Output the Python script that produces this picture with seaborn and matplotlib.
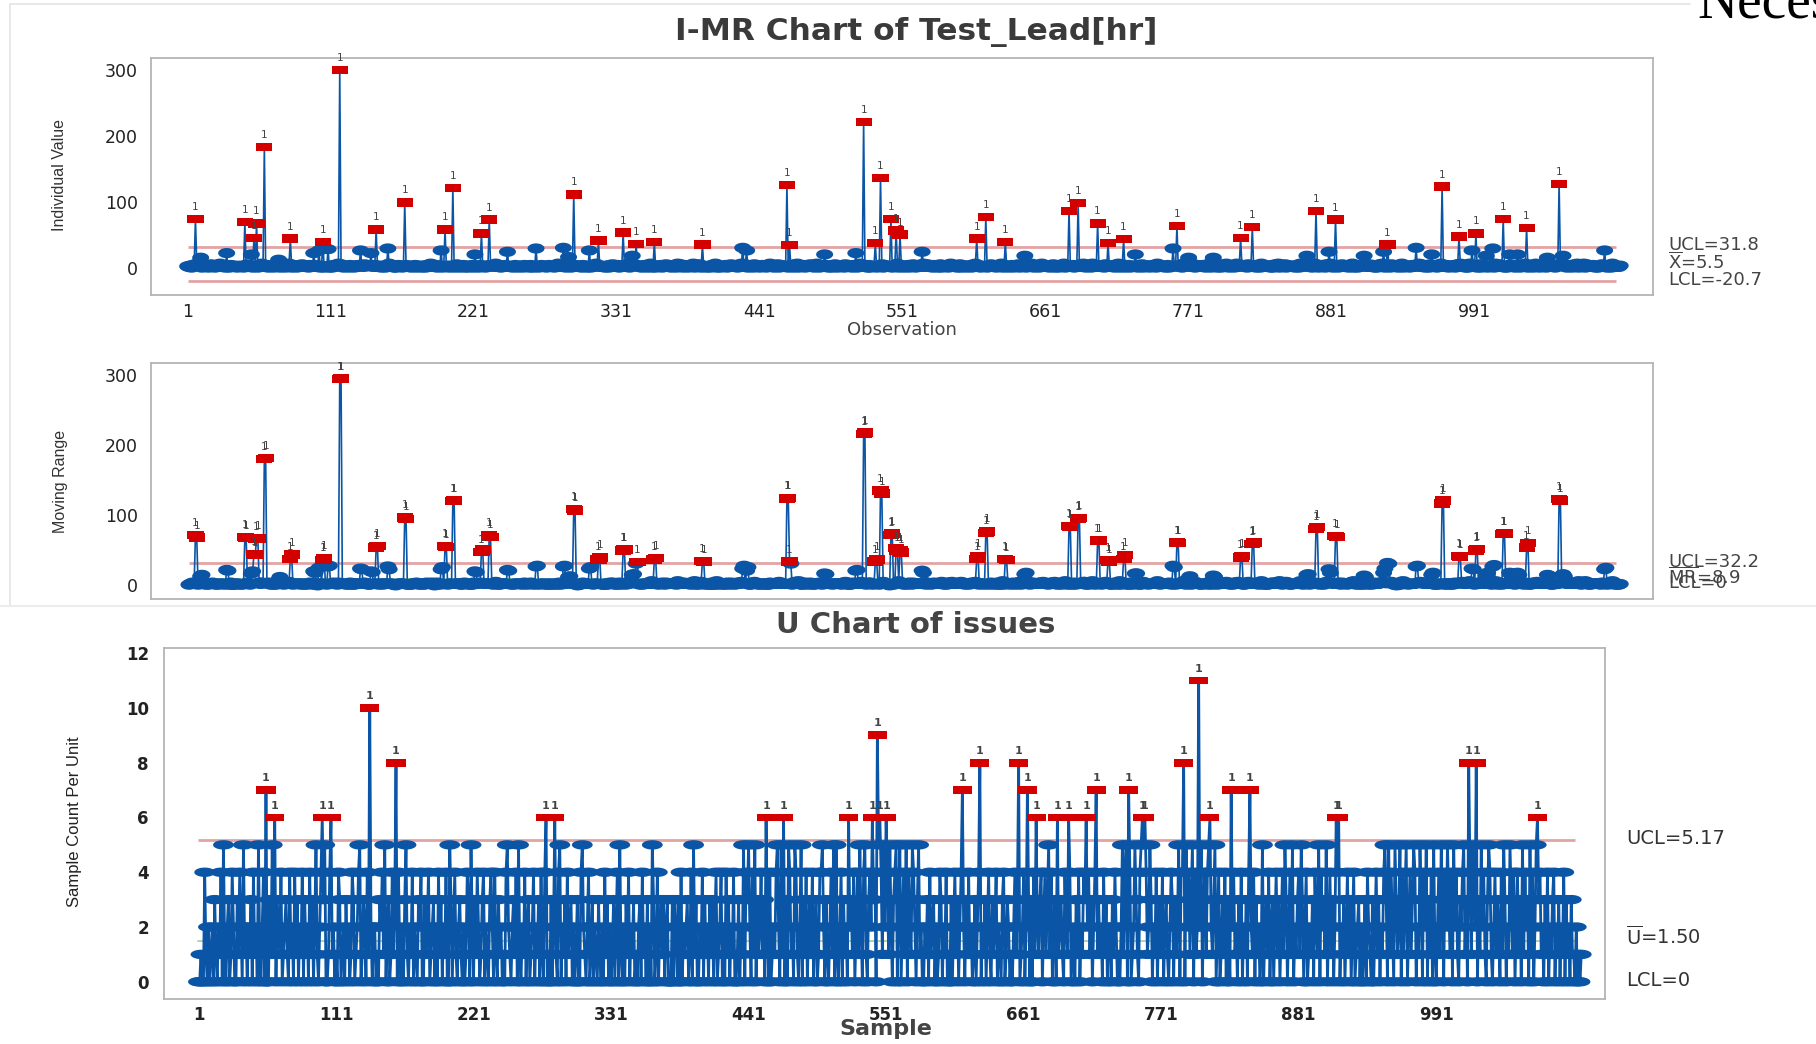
import numpy as np
import matplotlib
matplotlib.use("Agg")
import matplotlib.pyplot as plt
from matplotlib.path import Path
from matplotlib.markers import MarkerStyle
from matplotlib.lines import Line2D
import seaborn as sns

# ---------------- I chart data (Test_Lead[hr]) ----------------
i_seg_0001 = "2130421652 1024310251 3012463120 2104321302 1320415231 0213042630 1402310324 2031204162 0142031253 2130412041"
i_seg_0101 = "1203402130 2041326153 0231042103 1420315243 2031402130 1302463120 0241302143 2103140231 0320413621 1402310243"
i_seg_0201 = "2031402530 1240310234 0213042130 3104231621 2031420312 0142031204 2130410231 0241320143 1203462130 2041302143"
i_seg_0301 = "3120413025 0213640132 1032041523 2401302146 0312503120 1420316024 0231402153 1302410625 2041302316 0132504120"
i_seg_0401 = "2104326013 0321402153 1240316025 3012405132 0142301264 2031502413 1204320516 0321402315 2103640213 1420310352"
i_seg_0501 = "0312405123 2041302615 1320402136 0213504132 2401326013 1032402153 0241306125 3120413025 0213402613 1302504120"
i_seg_0601 = "2140316023 0312402153 1204326013 3021402315 0142305126 2031402613 1320415023 0213602143 2401302516 1032406213"
i_seg_0701 = "0312405123 2140326015 1023402136 3012504132 0241306213 1302402153 2031406125 0213504132 1420326013 3104202516"
i_seg_0801 = "2013402615 0321405132 1402306213 2130402516 0213504123 1302406215 3021402613 0142305126 2031402153 1320416023"
i_seg_0901 = "0213406125 2140302516 1032405213 3021604132 0241302615 1302405123 2013602143 0321402516 1420306213 2103504132"
i_seg_1001 = "0312406215 2140302153 1023504126 3012402613 0241305132 1302406215 2031402516 0213605123 1420302153 3104206213"
i_seg_1101 = "213"

i_bump_obs = [11, 31, 50, 71, 98, 102, 109, 134, 142, 155, 196, 222, 247, 269, 290, 294, 310, 343, 428, 431,
              491, 515, 566, 645, 730, 759, 771, 790, 862, 879, 906, 921, 946, 958, 989, 1000, 1005, 1018, 1024,
              1047, 1059, 1091]
i_bump_val = [15, 22, 20, 12, 22, 26, 28, 26, 22, 29, 26, 20, 24, 29, 30, 16, 26, 18, 30, 26,
              20, 22, 24, 18, 20, 29, 15, 15, 18, 24, 18, 24, 30, 20, 26, 18, 29, 20, 20,
              15, 18, 26]
i_spike_obs = [7, 45, 52, 54, 60, 80, 105, 118, 146, 168, 199, 205, 227, 233, 298, 317, 336, 346, 360, 397,
               462, 464, 521, 530, 534, 542, 546, 549, 608, 615, 630, 679, 686, 701, 709, 721, 762, 811, 820,
               869, 884, 924, 966, 979, 992, 1013, 1031, 1056]
i_spike_val = [74, 69, 45, 67, 183, 44, 39, 300, 58, 99, 58, 121, 52, 73, 111, 41, 53, 36, 39, 35,
               125, 34, 221, 37, 136, 74, 56, 50, 44, 77, 39, 86, 98, 67, 37, 43, 63, 45, 62,
               86, 73, 35, 123, 47, 52, 74, 60, 127]
i_ucl, i_cl, i_lcl = 31.8, 5.5, -20.7
mr_ucl, mr_cl, mr_lcl = 32.2, 8.9, 0.0

# ---------------- U chart data (issues) ----------------
u_seg_0001 = "0010041020 1203102140 5102301420 0314205120 2130412051 0240000315 1003214012 3104120413 0214031204 1302510240"
u_seg_0101 = "3500140120 1043012031 2014301245 0132041020 2201032415 0230141300 4102035102 1402103240 0312401230 2041302140"
u_seg_0201 = "0530241023 1020143052 0314201340 2103420410 3120104521 0231405102 1402301240 2130410400 1030201045 0213041230"
u_seg_0301 = "2013004521 0240130210 3102041302 0130240510 2031402130 1023041203 0205301402 3130230003 0320304021 2301405130"
u_seg_0401 = "0214031203 1302401240 2041302140 0130215043 5204150312 4130020401 2145205100 3054120541 0250314023 1402301445"
u_seg_0501 = "2031024150 5102403120 0231402415 2045103420 3400504152 0415203450 3502415042 1542035120 0213041230 2014302140"
u_seg_0601 = "1030241302 4020314120 1302400213 0241031240 2103401320 1024130012 4020303041 0213402413 5140230012 3104210401"
u_seg_0701 = "2031402143 0241302401 3120413022 0314201025 1450040125 3104505041 2530214023 1402310243 0312504400 5241350412"
u_seg_0801 = "0250341450 2135024013 1403200241 2031402130 4021403120 1502314023 0241302415 3024150213 4153024012 1304215042"
u_seg_0901 = "3150241302 0400213024 1302401230 2013042103 0241302145 3051420531 2504135024 1354021530 4250314051 0241530425"
u_seg_1001 = "3140524103 2451300415 4200315241 0354102413 2041530215 3140241305 1423051402 5034120314 0213402130 2140312031"
u_seg_1101 = "1020101"

u_ooc_obs = [55, 62, 100, 107, 138, 159, 279, 286, 455, 469, 521, 540, 544, 546, 551, 612, 626, 657, 664, 671,
             688, 697, 711, 719, 745, 756, 758, 789, 801, 810, 827, 842, 911, 913, 1017, 1023, 1072]
u_ooc_val = [7, 6, 6, 6, 10, 8, 6, 6, 6, 6, 6, 6, 9, 6, 6, 7, 8, 8, 7, 6,
             6, 6, 6, 7, 7, 6, 6, 8, 11, 6, 7, 7, 6, 6, 8, 8, 6]
u_ucl, u_cl, u_lcl = 5.17, 1.50, 0.0

x_tick_values = [1, 111, 221, 331, 441, 551, 661, 771, 881, 991]
i_y_ticks = [0, 100, 200, 300]
u_y_ticks = [0, 2, 4, 6, 8, 10, 12]


def parse_full(seg):
    out = []
    for g in seg.split():
        g = (g + "0000000000")[:10]
        out.extend(int(c) for c in g)
    return out


def parse_tail(seg):
    return [int(c) for c in seg if c.isdigit()]


i_vals = np.array(sum([parse_full(s) for s in (i_seg_0001, i_seg_0101, i_seg_0201, i_seg_0301, i_seg_0401,
                                               i_seg_0501, i_seg_0601, i_seg_0701, i_seg_0801, i_seg_0901,
                                               i_seg_1001)], []) + parse_tail(i_seg_1101), dtype=float)
for o, v in zip(i_bump_obs, i_bump_val):
    i_vals[o - 1] = v
for o, v in zip(i_spike_obs, i_spike_val):
    i_vals[o - 1] = v
i_obs = np.arange(1, len(i_vals) + 1)
mr_vals = np.abs(np.diff(i_vals))
mr_obs = i_obs[1:]

u_vals = np.array(sum([parse_full(s) for s in (u_seg_0001, u_seg_0101, u_seg_0201, u_seg_0301, u_seg_0401,
                                               u_seg_0501, u_seg_0601, u_seg_0701, u_seg_0801, u_seg_0901,
                                               u_seg_1001)], []) + parse_tail(u_seg_1101), dtype=float)
for o, v in zip(u_ooc_obs, u_ooc_val):
    u_vals[o - 1] = v
u_obs = np.arange(1, len(u_vals) + 1)

# ---------------- styling ----------------
sns.set_style("white")
plt.rcParams["font.family"] = ["DejaVu Sans"]
plt.rcParams["mathtext.fontset"] = "dejavusans"

BLUE = "#0a55a5"
RED = "#d40000"
PINK = "#e2a3a3"
GREEN = "#a4d4a4"
NARROW = ["Liberation Sans Narrow", "Liberation Sans", "DejaVu Sans"]

W, H = 1816, 1044


def fx(x):
    return x / W


def fy(y):
    return 1 - y / H


def ellipse_marker(ratio):
    t = np.linspace(0, 2 * np.pi, 41)
    verts = np.column_stack([np.cos(t), ratio * np.sin(t)])
    return MarkerStyle(Path(verts, closed=True))


def rect_marker(ratio):
    verts = [(-1, -ratio), (1, -ratio), (1, ratio), (-1, ratio), (-1, -ratio)]
    return MarkerStyle(Path(verts, closed=True))


def draw_series(ax, x, y, limit_hi, limit_lo, ell, s_ell, rect, s_rect, lw, lab_size, lab_weight):
    sns.lineplot(x=x, y=y, ax=ax, color=BLUE, linewidth=lw, estimator=None, sort=False,
                 zorder=3, legend=False)
    bad = (y > limit_hi) | (y < limit_lo)
    sns.scatterplot(x=x[~bad], y=y[~bad], ax=ax, marker=ell, s=s_ell, color=BLUE,
                    edgecolor="none", linewidth=0, zorder=4, legend=False)
    sns.scatterplot(x=x[bad], y=y[bad], ax=ax, marker=rect, s=s_rect, color=RED,
                    edgecolor="none", linewidth=0, zorder=5, legend=False)
    for xx, yy in zip(x[bad], y[bad]):
        ax.annotate("1", (xx, yy), xytext=(0, 5), textcoords="offset points", ha="center",
                    va="bottom", fontsize=lab_size, color="#444444", fontweight=lab_weight, zorder=6)


def limit_lines(ax, x0, x1, ucl, cl, lcl):
    ax.plot([x0, x1], [cl, cl], color=GREEN, lw=1.3, zorder=2)
    ax.plot([x0, x1], [ucl, ucl], color=PINK, lw=2.0, zorder=2, solid_capstyle="butt")
    ax.plot([x0, x1], [lcl, lcl], color=PINK, lw=2.0, zorder=2, solid_capstyle="butt")


def style_axes(ax, labelsize, weight, ylen, xlen, xpad):
    for sp in ax.spines.values():
        sp.set_color("#b4b4b4")
        sp.set_linewidth(1.3)
    ax.tick_params(axis="y", direction="out", length=ylen, width=1, color="#9a9a9a", pad=3,
                   labelsize=labelsize, labelcolor="#222222")
    ax.tick_params(axis="x", direction="out", length=xlen, width=1, color="#9a9a9a", pad=xpad,
                   labelsize=labelsize, labelcolor="#222222")
    for lab in ax.get_xticklabels() + ax.get_yticklabels():
        lab.set_fontweight(weight)
    ax.set_xlabel("")
    ax.set_ylabel("")
    ax.grid(False)


fig = plt.figure(figsize=(W / 100, H / 100), dpi=100)
fig.patch.set_facecolor("white")

# screenshot frame lines
fig.add_artist(Line2D([fx(10), fx(1690)], [fy(4), fy(4)], color="#e4e4e4", lw=1.2))
fig.add_artist(Line2D([fx(10), fx(10)], [fy(4), fy(605)], color="#e4e4e4", lw=1.2))
fig.add_artist(Line2D([fx(0), fx(1816)], [fy(606), fy(606)], color="#ececec", lw=1.5))

ell_i = ellipse_marker(0.6)
rect_i = rect_marker(0.52)
ell_u = ellipse_marker(0.45)
rect_u = rect_marker(0.4)

# ---- I chart ----
ax_i = fig.add_axes([fx(150.6), fy(295.3), fx(1502.1), 237.4 / H])
limit_lines(ax_i, 1, 1100, i_ucl, i_cl, i_lcl)
draw_series(ax_i, i_obs, i_vals, i_ucl, i_lcl, ell_i, 150, rect_i, 135, 1.2, 7.5, "normal")
ax_i.set_xlim(-27.5, 1128)
ax_i.set_ylim(-42, 318)
ax_i.set_xticks(x_tick_values)
ax_i.set_xticklabels([str(v) for v in x_tick_values])
ax_i.set_yticks(i_y_ticks)
ax_i.set_yticklabels([str(v) for v in i_y_ticks])
style_axes(ax_i, 12.5, "normal", 6, 4, 1.5)

# ---- MR chart ----
ax_mr = fig.add_axes([fx(150.6), fy(598.7), fx(1502.1), 236.0 / H])
limit_lines(ax_mr, 2, 1100, mr_ucl, mr_cl, mr_lcl)
draw_series(ax_mr, mr_obs, mr_vals, mr_ucl, -1e9, ell_i, 150, rect_i, 135, 1.2, 7.5, "normal")
ax_mr.set_xlim(-27.5, 1128)
ax_mr.set_ylim(-19, 317.5)
ax_mr.set_xticks(x_tick_values)
ax_mr.set_xticklabels([])
ax_mr.set_yticks(i_y_ticks)
ax_mr.set_yticklabels([str(v) for v in i_y_ticks])
style_axes(ax_mr, 12.5, "normal", 6, 4, 1.5)

# ---- U chart ----
ax_u = fig.add_axes([fx(164.2), fy(999.3), fx(1440.8), 351.6 / H])
limit_lines(ax_u, 1, 1102, u_ucl, u_cl, u_lcl)
draw_series(ax_u, u_obs, u_vals, u_ucl, -1e9, ell_u, 225, rect_u, 190, 2.0, 8, "bold")
ax_u.set_xlim(-26.4, 1126)
ax_u.set_ylim(-0.64, 12.2)
ax_u.set_xticks(x_tick_values)
ax_u.set_xticklabels([str(v) for v in x_tick_values])
ax_u.set_yticks(u_y_ticks)
ax_u.set_yticklabels([str(v) for v in u_y_ticks])
style_axes(ax_u, 12, "bold", 8, 3.5, 1.0)

# ---- titles and labels ----
fig.text(fx(916), fy(32), "I-MR Chart of Test_Lead[hr]", ha="center", va="center",
         fontsize=22.5, fontweight="bold", color="#3a3a3a")
fig.text(fx(916), fy(625), "U Chart of issues", ha="center", va="center",
         fontsize=21, fontweight="bold", color="#444444")
fig.text(fx(902), fy(330), "Observation", ha="center", va="center", fontsize=13, color="#444444")
fig.text(fx(886), fy(1029), "Sample", ha="center", va="center", fontsize=16, fontweight="bold",
         color="#444444")
fig.text(fx(60), fy(175), "Individual Value", rotation=90, ha="center", va="center",
         fontsize=11.5, family=NARROW, color="#333333")
fig.text(fx(60), fy(481), "Moving Range", rotation=90, ha="center", va="center",
         fontsize=11.5, family=NARROW, color="#333333")
fig.text(fx(75), fy(822), "Sample Count Per Unit", rotation=90, ha="center", va="center",
         fontsize=12, family=NARROW, color="#222222")

# limit labels
lab_kw = dict(ha="left", va="center", fontsize=13, color="#444444")
fig.text(fx(1668), fy(245), "UCL=31.8", **lab_kw)
fig.text(fx(1668), fy(262), r"$\overline{\mathrm{X}}$=5.5", **lab_kw)
fig.text(fx(1668), fy(280), "LCL=-20.7", **lab_kw)
fig.text(fx(1668), fy(562), "UCL=32.2", **lab_kw)
fig.text(fx(1668), fy(577), r"$\overline{\mathrm{MR}}$=8.9", **lab_kw)
fig.text(fx(1668), fy(583), "LCL=0", **lab_kw)
ulab_kw = dict(ha="left", va="center", fontsize=14, color="#333333")
fig.text(fx(1626), fy(839), "UCL=5.17", **ulab_kw)
fig.text(fx(1626), fy(937), r"$\overline{\mathrm{U}}$=1.50", **ulab_kw)
fig.text(fx(1626), fy(981), "LCL=0", **ulab_kw)

# cut-off document text at top right
fig.text(fx(1697), fy(17), "Neces", ha="left", va="baseline", fontsize=40,
         family=["Liberation Serif", "DejaVu Serif"], color="black")

fig.savefig("out.png", dpi=100)
